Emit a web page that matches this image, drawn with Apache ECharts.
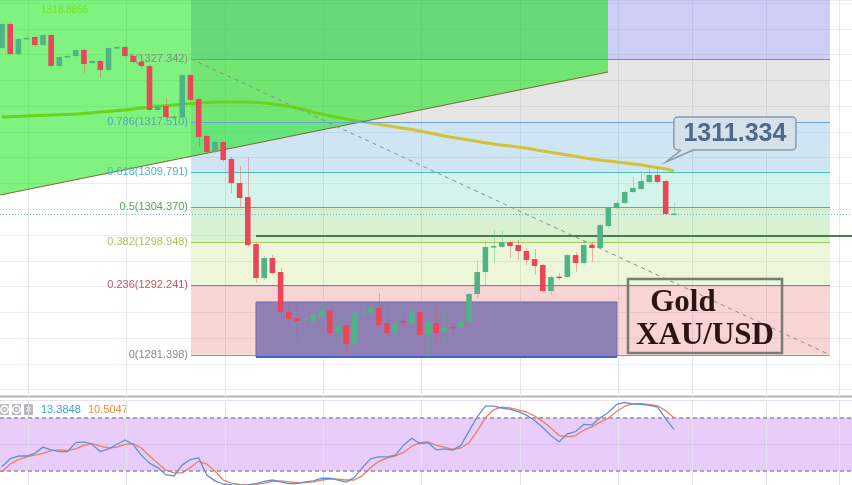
<!DOCTYPE html>
<html><head><meta charset="utf-8">
<script src="https://cdn.jsdelivr.net/npm/echarts@6/dist/echarts.min.js"></script>
<style>html,body{margin:0;padding:0;background:#fff}#c{width:852px;height:485px}</style>
</head><body><div id="c"></div>
<script>
// ---------------- DATA ----------------
const opens  = [1329.04,1332.76,1328.11,1330.50,1330.75,1329.50,1331.06,1326.24,1327.70,1327.80,1328.73,1326.71,1327.02,1325.62,1329.04,1329.19,1327.80,1326.86,1326.24,1319.41,1320.03,1318.30,1318.32,1324.84,1321.12,1315.37,1312.89,1314.44,1311.80,1308.07,1305.90,1298.60,1293.32,1296.43,1294.25,1288.04,1287.11,1286.80,1286.49,1287.27,1288.35,1284.78,1286.02,1283.07,1287.89,1287.89,1288.66,1286.34,1284.78,1286.65,1286.34,1288.04,1284.47,1286.34,1284.94,1285.71,1285.56,1286.49,1290.84,1294.25,1298.14,1298.14,1298.91,1298.45,1297.52,1296.27,1295.34,1291.30,1293.55,1293.48,1296.89,1295.65,1298.45,1297.98,1301.40,1304.19,1304.97,1306.68,1307.14,1308.23,1309.32,1308.39,1303.26];
const closes = [1332.76,1328.11,1330.43,1330.60,1329.50,1331.06,1326.24,1327.64,1327.80,1328.73,1326.55,1327.02,1325.62,1329.04,1329.19,1327.80,1326.86,1326.24,1319.41,1320.03,1318.32,1318.40,1324.84,1320.96,1315.22,1312.89,1314.44,1311.65,1308.07,1305.75,1298.45,1293.32,1296.43,1294.10,1288.04,1286.96,1286.65,1286.96,1287.73,1288.35,1284.78,1285.87,1283.07,1287.89,1288.04,1288.66,1286.02,1284.78,1286.34,1286.34,1288.04,1284.47,1286.49,1284.78,1285.56,1285.56,1286.49,1290.84,1294.25,1298.14,1298.29,1298.91,1298.29,1297.52,1296.12,1295.19,1291.30,1293.48,1293.45,1296.89,1295.65,1298.45,1297.98,1301.55,1304.19,1304.97,1306.68,1307.30,1308.39,1309.32,1308.23,1303.26,1303.33];
const lows   = [1328.90,1327.90,1327.90,1330.30,1329.20,1329.30,1326.00,1326.00,1327.50,1327.60,1325.16,1326.50,1324.38,1325.40,1328.90,1327.60,1326.60,1325.90,1319.20,1319.20,1318.10,1318.10,1318.10,1320.70,1313.66,1312.60,1312.70,1311.40,1306.52,1304.35,1298.20,1292.55,1293.10,1293.90,1286.49,1285.25,1283.23,1285.71,1285.71,1287.00,1284.01,1283.70,1281.37,1282.90,1286.80,1286.34,1285.80,1284.16,1283.70,1285.25,1286.10,1284.20,1281.06,1283.23,1283.07,1284.47,1285.30,1286.30,1290.22,1292.24,1295.65,1297.90,1296.43,1296.12,1295.34,1293.79,1291.10,1290.68,1293.00,1293.30,1294.25,1295.40,1295.81,1297.80,1301.09,1304.00,1304.80,1306.50,1306.90,1308.00,1308.00,1303.10,1303.10];
const highs  = [1333.00,1333.00,1330.60,1330.90,1330.90,1331.30,1331.20,1327.90,1328.00,1328.90,1328.90,1327.20,1327.20,1329.20,1329.40,1329.40,1328.00,1327.00,1326.40,1320.20,1321.27,1318.70,1325.10,1325.00,1321.30,1315.50,1314.60,1314.60,1312.11,1310.71,1312.11,1298.80,1296.74,1296.89,1294.88,1289.44,1289.60,1288.66,1288.35,1289.60,1288.60,1287.89,1286.20,1288.10,1289.44,1289.13,1290.99,1288.66,1287.89,1287.89,1288.66,1288.30,1287.11,1289.13,1288.66,1286.34,1287.11,1291.00,1296.12,1299.07,1300.78,1300.62,1299.10,1299.22,1297.98,1297.83,1295.50,1293.70,1294.10,1297.10,1297.36,1299.22,1298.91,1301.70,1304.40,1305.43,1306.90,1309.01,1309.63,1310.40,1310.40,1308.60,1304.97];
const maIndex  = [0,3,6,9,12,15,18,21,24,27,30,33,36,39,42,45,48,51,54,57,60,63,66,69,72,75,78,81,82];
const maValues = [1318.32,1318.48,1318.63,1318.79,1319.10,1319.41,1319.88,1320.19,1320.50,1320.65,1320.65,1320.34,1319.72,1318.79,1318.01,1317.39,1316.77,1316.15,1315.37,1314.75,1314.13,1313.66,1313.04,1312.42,1311.80,1311.34,1310.87,1310.25,1309.94];
const stochK = [25,34,37,37,40,47,44,42,42,52,53,50,42,45,50,55,50,38,29,24,16,14.5,27,33,35,15.5,9,5.5,4.5,4,4.5,6,8.5,10,8,6,6,8,9,12,12,10,7.5,13,24,34,36,36,38,49,57,51,52,44,45,43.6,49,65,81,93,93,91,89.5,87,83,77,69,60,53,62,64.5,72.5,72,80,86,95,97,95.5,95,94,92,79,67];
const stochD = [19,28,33,36,38,40,43,44,43,45,49,51,48,46,47,50,51,46,37,29,21,18,18,24,31,28,20,10,6.5,5,4.5,5,6.5,8.5,9,8,7,7,8,10,11,11,10,10,15,24,31,35,37,41,48,52,53,49,47,44.5,46,52,65,80,89,92,91,89,86.5,82,76,68.5,60,58.5,60,66,70,75,79.5,87,93,96,96,95,93.5,88,80];
const fibRatios = ['1','0.786','0.618','0.5','0.382','0.236','0'];
const fibPrices = [1327.342,1317.510,1309.791,1304.370,1298.948,1292.241,1281.398];
const currentPrice = 1303.26;
const supportPrice = 1299.84;
const calloutText = '1311.334';
const calloutPrice = 1311.334;
const maLegendText = '1318.8856';
const stochLegendTexts = ['13.3848','10.5047'];
const titleLines = ['Gold','XAU/USD'];
const gridLineIdx = [3.17,15.17,27.17,39.17,51.17,63.17,75.17,84.2,93.2,102.2];

// ---------------- LAYOUT / STYLE ----------------
const X_MIN=-0.244, X_MAX=103.74, Y_MIN=1276, Y_MAX=1336.49;
const FIB_X0=23.07, FIB_X1=101.05;
const UP='#4fb386', DOWN='#ea4658';
const BAND_COLORS=['rgba(130,130,230,0.40)','rgba(150,150,150,0.25)','rgba(100,170,220,0.30)','rgba(80,210,170,0.25)','rgba(100,200,80,0.25)','rgba(180,220,100,0.25)','rgba(230,100,100,0.28)'];
const FIB_LINE_COLORS=['#8e8e8e','#6aa6cf','#4cc0bf','#5cb85c','#a6cc55','#e05a5a','#8f96a6'];
const FIB_LABEL_COLORS=['#8a8a8a','#5a9fc0','#4ab6c6','#4caf50','#abc45c','#d25454','#8a8a8a'];
const GREEN_ZONE={x1:73.96, yLeft:1306.21, yRight:1325.31};
const BOX={x0:31.0,x1:75.05,y0:1289.60,y1:1281.06};
const GOLD_BOX={x0:76.4,x1:95.2,y0:1293.17,y1:1281.68};
const GOLD_TXT=[{x:83.1,y:1289.45},{x:85.8,y:1284.35}];
const CALLOUT={x0:82.0,x1:96.9,y0:1318.32,y1:1313.20,tailA:82.9,tailB:84.4,tipX:81.03};

const chart = echarts.init(document.getElementById('c'), null, {renderer:'canvas'});
const candleData = opens.map((o,i)=>[i,o,closes[i],lows[i],highs[i]]);
const maData = maIndex.map((x,k)=>[x,maValues[k]]);
const kData = stochK.map((v,i)=>[i,v]);
const dData = stochD.map((v,i)=>[i,v]);
const bandData = fibPrices.map((p,k)=>[k===0?Y_MAX:fibPrices[k-1], p]);
const fibData = fibPrices.map((p,k)=>[k,p]);

function vGrid(params, api){
  const cs = params.coordSys;
  const x = Math.round(api.coord([api.value(0), Y_MIN])[0])+0.5;
  return {type:'line', shape:{x1:x,y1:cs.y,x2:x,y2:cs.y+cs.height+7}, style:{stroke:'#e4e9ef',lineWidth:1}};
}
function vGrid2(params, api){
  const cs = params.coordSys;
  const x = Math.round(api.coord([api.value(0), 50])[0])+0.5;
  return {type:'line', shape:{x1:x,y1:cs.y,x2:x,y2:cs.y+cs.height}, style:{stroke:'#e4e0ee',lineWidth:1}};
}
function renderBand(params, api){
  const a = api.coord([FIB_X0, api.value(0)]), b = api.coord([FIB_X1, api.value(1)]);
  return {type:'rect', shape:{x:a[0],y:a[1],width:b[0]-a[0],height:b[1]-a[1]}, style:{fill:BAND_COLORS[params.dataIndex]}};
}
function renderFib(params, api){
  const k = params.dataIndex, p = api.value(1);
  const a = api.coord([FIB_X0,p]), b = api.coord([FIB_X1,p]);
  const y = Math.round(a[1])+0.5;
  return {type:'group', children:[
    {type:'line', shape:{x1:a[0],y1:y,x2:b[0],y2:y}, style:{stroke:FIB_LINE_COLORS[k],lineWidth:1}},
    {type:'text', x:a[0]-3, y:a[1], style:{text:fibRatios[k]+'('+fibPrices[k].toFixed(3)+')', fill:FIB_LABEL_COLORS[k], font:'11px "Liberation Sans"', align:'right', verticalAlign:'middle'}}
  ]};
}
function renderGreen(params, api){
  const p1=api.coord([X_MIN,Y_MAX]), p2=api.coord([GREEN_ZONE.x1,Y_MAX]), p3=api.coord([GREEN_ZONE.x1,GREEN_ZONE.yRight]), p4=api.coord([X_MIN,GREEN_ZONE.yLeft]);
  return {type:'group', children:[
    {type:'polygon', shape:{points:[p1,p2,p3,p4]}, style:{fill:'rgba(0,230,0,0.5)'}},
    {type:'line', shape:{x1:p4[0],y1:p4[1],x2:p3[0],y2:p3[1]}, style:{stroke:'#7c6c36',lineWidth:1.2}}
  ]};
}
function renderOverlay(params, api){
  const d1=api.coord([FIB_X0,fibPrices[0]]), d2=api.coord([FIB_X1,fibPrices[6]]);
  const c1=api.coord([X_MIN,currentPrice]), c2=api.coord([X_MAX,currentPrice]);
  const s1=api.coord([BOX.x0,supportPrice]), s2=api.coord([X_MAX,supportPrice]);
  const b1=api.coord([BOX.x0,BOX.y0]), b2=api.coord([BOX.x1,BOX.y1]);
  return {type:'group', children:[
    {type:'line', shape:{x1:d1[0],y1:d1[1],x2:d2[0],y2:d2[1]}, style:{stroke:'#8c8c8c',lineWidth:1,lineDash:[4,4]}},
    {type:'line', shape:{x1:c1[0],y1:Math.round(c1[1])+0.5,x2:c2[0],y2:Math.round(c1[1])+0.5}, style:{stroke:'#6cb6c6',lineWidth:1,lineDash:[1,2]}},
    {type:'rect', shape:{x:b1[0],y:b1[1],width:b2[0]-b1[0],height:b2[1]-b1[1]}, style:{fill:'#8e80b2',stroke:'#6f66b0',lineWidth:1}},
    {type:'line', shape:{x1:b1[0],y1:b2[1],x2:b2[0],y2:b2[1]}, style:{stroke:'#3f62cc',lineWidth:2}},
    {type:'line', shape:{x1:s1[0],y1:s1[1],x2:s2[0],y2:s2[1]}, style:{stroke:'#4d7b4b',lineWidth:2}}
  ]};
}
function renderCandle(params, api){
  const i=api.value(0), o=api.value(1), c=api.value(2), l=api.value(3), h=api.value(4);
  const pO=api.coord([i,o]), pC=api.coord([i,c]), pL=api.coord([i,l]), pH=api.coord([i,h]);
  const col = c>=o ? UP : DOWN;
  const w = api.size([1,0])[0]*0.68;
  const top = Math.min(pO[1],pC[1]);
  let ht = Math.abs(pO[1]-pC[1]); if (ht<1.5) ht=1.5;
  const x = Math.round(pO[0])+0.5;
  return {type:'group', children:[
    {type:'line', shape:{x1:x,y1:pH[1],x2:x,y2:pL[1]}, style:{stroke:col,opacity:0.4,lineWidth:1}},
    {type:'rect', shape:{x:pO[0]-w/2,y:top,width:w,height:ht}, style:{fill:col}}
  ]};
}
function renderNotes(params, api){
  const g1=api.coord([GOLD_BOX.x0,GOLD_BOX.y0]), g2=api.coord([GOLD_BOX.x1,GOLD_BOX.y1]);
  const t1=api.coord([GOLD_TXT[0].x,GOLD_TXT[0].y]), t2=api.coord([GOLD_TXT[1].x,GOLD_TXT[1].y]);
  const k1=api.coord([CALLOUT.x0,CALLOUT.y0]), k2=api.coord([CALLOUT.x1,CALLOUT.y1]);
  const ta=api.coord([CALLOUT.tailA,CALLOUT.y1]), tb=api.coord([CALLOUT.tailB,CALLOUT.y1]), tip=api.coord([CALLOUT.tipX,calloutPrice]);
  return {type:'group', children:[
    {type:'rect', shape:{x:g1[0],y:g1[1],width:g2[0]-g1[0],height:g2[1]-g1[1]}, style:{fill:'none',stroke:'#757d75',lineWidth:2.5}},
    {type:'text', x:t1[0], y:t1[1], style:{text:titleLines[0], font:'bold 31px "Liberation Serif"', fill:'#2c1414', align:'center', verticalAlign:'middle'}},
    {type:'text', x:t2[0], y:t2[1], style:{text:titleLines[1], font:'bold 31px "Liberation Serif"', fill:'#2c1414', align:'center', verticalAlign:'middle'}},
    {type:'rect', shape:{x:k1[0],y:k1[1],width:k2[0]-k1[0],height:k2[1]-k1[1],r:4}, style:{fill:'#d5e1ea',stroke:'#8c9bab',lineWidth:1.5}},
    {type:'polygon', shape:{points:[[ta[0],ta[1]-1],[tb[0],tb[1]-1],tip]}, style:{fill:'#d5e1ea'}},
    {type:'polyline', shape:{points:[ta,tip,tb]}, style:{stroke:'#8c9bab',lineWidth:1.5,fill:'none'}},
    {type:'text', x:(k1[0]+k2[0])/2, y:(k1[1]+k2[1])/2+1, style:{text:calloutText, font:'bold 25px "Liberation Sans"', fill:'#4d6b88', align:'center', verticalAlign:'middle'}}
  ]};
}

function circleIcon(x,y,color){
  return [{type:'circle',shape:{cx:x,cy:y,r:3.6},style:{fill:'none',stroke:color,lineWidth:1.6}},
          {type:'circle',shape:{cx:x,cy:y,r:1.2},style:{fill:color}}];
}
const graphics = [].concat(
  circleIcon(5,10,'#ffffff'), circleIcon(15,10,'#ffffff'),
  [{type:'text',x:21,y:10,style:{text:'✕',font:'bold 10px "DejaVu Sans"',fill:'#ffffff',verticalAlign:'middle'}},
   {type:'text',x:41,y:10,style:{text:maLegendText,font:'10px "Liberation Sans"',fill:'#e6e046',verticalAlign:'middle'}},
   {type:'line',shape:{x1:0,y1:396.5,x2:852,y2:396.5},style:{stroke:'#b5b5b5',lineWidth:2}},
   {type:'rect',shape:{x:0,y:404,width:9,height:11,r:1},style:{fill:'#b8b8b8'}},
   {type:'rect',shape:{x:12,y:404,width:9,height:11,r:1},style:{fill:'#b8b8b8'}},
   {type:'rect',shape:{x:24,y:404,width:9,height:11,r:1},style:{fill:'#b8b8b8'}}],
  circleIcon(4.5,409.5,'#ffffff'), circleIcon(16.5,409.5,'#ffffff'),
  [{type:'text',x:28.5,y:410,style:{text:'✕',font:'bold 8px "DejaVu Sans"',fill:'#ffffff',align:'center',verticalAlign:'middle'}},
   {type:'text',x:41,y:410,style:{text:stochLegendTexts[0],font:'11px "Liberation Sans"',fill:'#3f9fd9',verticalAlign:'middle'}},
   {type:'text',x:88,y:410,style:{text:stochLegendTexts[1],font:'11px "Liberation Sans"',fill:'#ef8a38',verticalAlign:'middle'}}]
);

chart.setOption({
  animation:false,
  backgroundColor:'#ffffff',
  grid:[{left:0,right:0,top:0,height:389.6,outerBoundsMode:'none'},{left:0,right:0,top:400,height:88.9,outerBoundsMode:'none'}],
  xAxis:[
    {type:'value',gridIndex:0,min:X_MIN,max:X_MAX,show:false,splitLine:{show:false}},
    {type:'value',gridIndex:1,min:X_MIN,max:X_MAX,show:false,splitLine:{show:false}}
  ],
  yAxis:[
    {type:'value',gridIndex:0,min:Y_MIN,max:Y_MAX,interval:4,axisLabel:{show:false},axisLine:{show:false},axisTick:{show:false},splitLine:{show:true,lineStyle:{color:'#eaedf1',width:1}}},
    {type:'value',gridIndex:1,min:0,max:100,interval:50,axisLabel:{show:false},axisLine:{show:false},axisTick:{show:false},splitLine:{show:true,lineStyle:{color:'#e6e2ee',width:1}}}
  ],
  series:[
    {type:'custom',name:'vgrid',xAxisIndex:0,yAxisIndex:0,z:1,silent:true,renderItem:vGrid,data:gridLineIdx.map(v=>[v])},
    {type:'custom',name:'fibBands',xAxisIndex:0,yAxisIndex:0,z:2,silent:true,renderItem:renderBand,data:bandData},
    {type:'line',name:'MA',xAxisIndex:0,yAxisIndex:0,z:3,data:maData,showSymbol:false,smooth:0.3,lineStyle:{color:'#d2c236',width:3},silent:true},
    {type:'custom',name:'greenZone',xAxisIndex:0,yAxisIndex:0,z:4,silent:true,renderItem:renderGreen,data:[[0]]},
    {type:'custom',name:'fibLevels',xAxisIndex:0,yAxisIndex:0,z:5,silent:true,renderItem:renderFib,data:fibData},
    {type:'custom',name:'overlay',xAxisIndex:0,yAxisIndex:0,z:6,silent:true,renderItem:renderOverlay,data:[[0]]},
    {type:'custom',name:'XAUUSD',xAxisIndex:0,yAxisIndex:0,z:7,silent:true,renderItem:renderCandle,data:candleData},
    {type:'custom',name:'notes',xAxisIndex:0,yAxisIndex:0,z:8,silent:true,renderItem:renderNotes,data:[[0]]},
    {type:'custom',name:'vgrid2',xAxisIndex:1,yAxisIndex:1,z:1,silent:true,renderItem:vGrid2,data:gridLineIdx.map(v=>[v])},
    {type:'line',name:'%K',xAxisIndex:1,yAxisIndex:1,z:4,data:kData,showSymbol:false,lineStyle:{color:'#5f8fe2',width:1.3},silent:true,
      markArea:{silent:true,itemStyle:{color:'rgba(189,112,241,0.35)'},data:[[{yAxis:20},{yAxis:80}]]},
      markLine:{silent:true,symbol:'none',label:{show:false},lineStyle:{color:'#9a8a9e',type:[4,3],width:1.5},data:[{yAxis:80},{yAxis:20}]}},
    {type:'line',name:'%D',xAxisIndex:1,yAxisIndex:1,z:3,data:dData,showSymbol:false,lineStyle:{color:'#ec8050',width:1.3},silent:true}
  ],
  graphic:graphics
});
</script>
</body></html>
